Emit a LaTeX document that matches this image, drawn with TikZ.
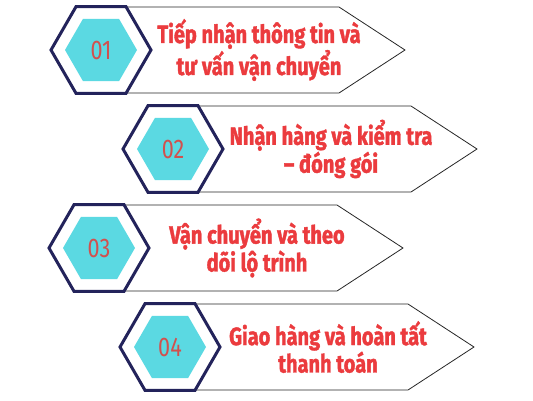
\documentclass[tikz,border=0pt]{standalone}
\usepackage{fontspec}
\newfontfamily\stepfont{Fira Sans}[FakeStretch=0.8,BoldFeatures={FakeBold=1.5}]
\usetikzlibrary{shapes.geometric}
\definecolor{hexnavy}{HTML}{23235B}
\definecolor{hexcyan}{HTML}{5BD9E2}
\definecolor{steptext}{HTML}{EB3B3E}
\definecolor{numtext}{HTML}{D2504E}
\def\boxlen{213}
\def\boxtip{66}

\begin{document}
\begin{tikzpicture}[x=1pt,y=-1pt]
        \tikzstyle{hexagon}=[regular polygon,regular polygon sides=6,inner sep=0pt,outer sep=0pt]
        \tikzstyle{outer hex}=[hexagon,draw=hexnavy,fill=white,line width=3pt,minimum size=100pt]
        \tikzstyle{inner hex}=[hexagon,fill=hexcyan,minimum size=72pt,text=numtext,font=\stepfont\fontsize{27}{27}\selectfont]
        \tikzstyle{arrow box}=[draw=black!85,line width=0.8pt,fill=white]
        \tikzstyle{annot}=[align=center,text=steptext,font=\stepfont\bfseries\fontsize{25}{26}\selectfont]
        \useasboundingbox (0,0) rectangle (533,400);
        \foreach \name/\x/\y/\txt in {01/101/50/{Tiếp nhận thông tin và\\tư vấn vận chuyển},
                02/173/149/{Nhận hàng và kiểm tra\\– đóng gói},
                03/99/248/{Vận chuyển và theo\\dõi lộ trình},
                04/170/347/{Giao hàng và hoàn tất\\thanh toán}} {
            \coordinate (C-\name) at (\x,\y);
            \draw[arrow box] (C-\name) ++(25,-43) -- ++(\boxlen,0) -- ++(\boxtip,43)
                -- ++(-\boxtip,43) -- ++(-\boxlen,0) -- cycle;
            \node[outer hex] (H-\name) at (C-\name) {};
            \node[inner hex] (N-\name) at (C-\name) {\name};
            \node[annot] (T-\name) at ([xshift=158pt]C-\name) {\txt};
        }
    \end{tikzpicture}
\end{document}
